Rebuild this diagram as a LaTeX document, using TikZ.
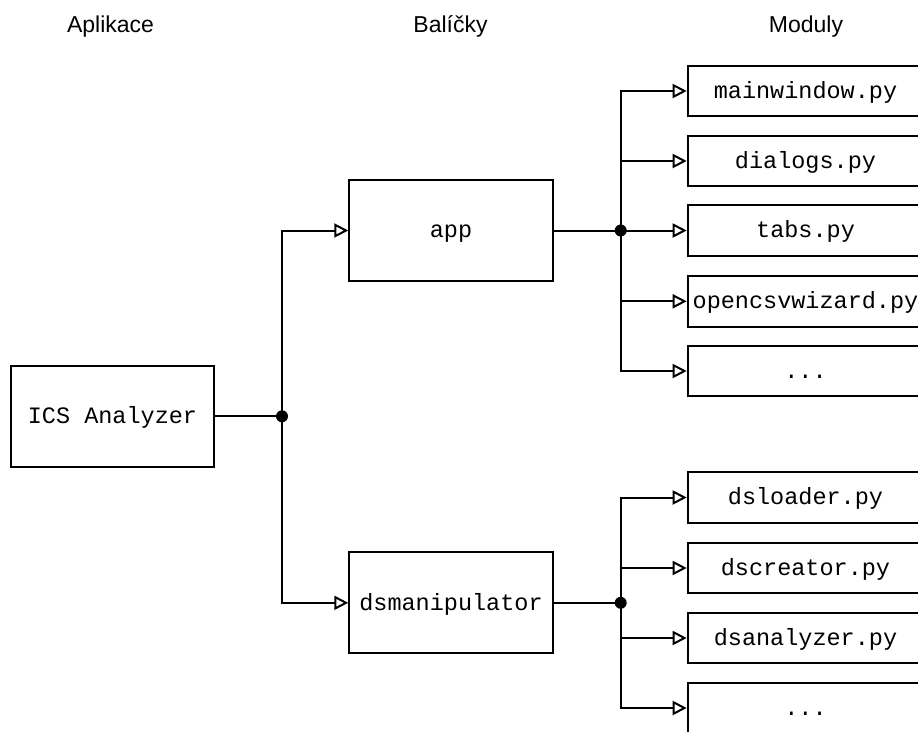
\documentclass[tikz,border=0pt]{standalone}
\usepackage{fontspec}
\setmainfont{Liberation Sans}
\setmonofont{Liberation Mono}
\usetikzlibrary{arrows.meta}
\begin{document}
\begin{tikzpicture}[x=1pt,y=-1pt,line width=2pt,
  box/.style={draw,line width=2pt,inner sep=0pt,font=\ttfamily\fontsize{23.5}{28}\selectfont,text height=20pt,text depth=5.5pt},
  pkg/.style={box,minimum width=203.5pt,minimum height=101pt},
  mod/.style={box,minimum width=235.6pt,minimum height=50.5pt},
  hdr/.style={font=\fontsize{23}{27}\selectfont,anchor=base,inner sep=0pt},
  link/.style={line width=2pt,-{Triangle[open,length=14pt,width=14pt,line width=2pt]}},
  dotc/.style={circle,fill=black,inner sep=0pt,minimum size=12pt}
]
\useasboundingbox (0,0) rectangle (918,731);

\node[hdr] (h1) at (110.5,32) {Aplikace};
\node[hdr] (h2) at (450.5,32) {Balíčky};
\node[hdr] (h3) at (806,32) {Moduly};

\node[pkg] (ics) at (112.5,416.3) {ICS Analyzer};
\node[pkg] (app) at (451,230.5) {app};
\node[pkg] (dsm) at (451,602.8) {dsmanipulator};

\node[mod] (m1) at (805.5,91) {mainwindow.py};
\node[mod] (m2) at (805.5,161) {dialogs.py};
\node[mod] (m3) at (805.5,230.5) {tabs.py};
\node[mod] (m4) at (805.5,301.3) {opencsvwizard.py};
\node[mod] (m5) at (805.5,371) {...};

\node[mod] (d1) at (805.5,497.5) {dsloader.py};
\node[mod] (d2) at (805.5,568) {dscreator.py};
\node[mod] (d3) at (805.5,638) {dsanalyzer.py};
\node[mod] (d4) at (805.5,708) {...};

\coordinate (j0) at (282,416.3);
\coordinate (j1) at (620.7,230.5);
\coordinate (j2) at (620.7,602.8);

\draw (ics.east) -- (j0);
\draw[link] (j0) |- (app.west);
\draw[link] (j0) |- (dsm.west);

\draw (app.east) -- (j1);
\foreach \m in {m1,m2,m3,m4,m5} \draw[link] (j1) |- (\m.west);

\draw (dsm.east) -- (j2);
\foreach \d in {d1,d2,d3,d4} \draw[link] (j2) |- (\d.west);

\node[dotc] (dot0) at (j0) {};
\node[dotc] (dot1) at (j1) {};
\node[dotc] (dot2) at (j2) {};
\end{tikzpicture}
\end{document}
